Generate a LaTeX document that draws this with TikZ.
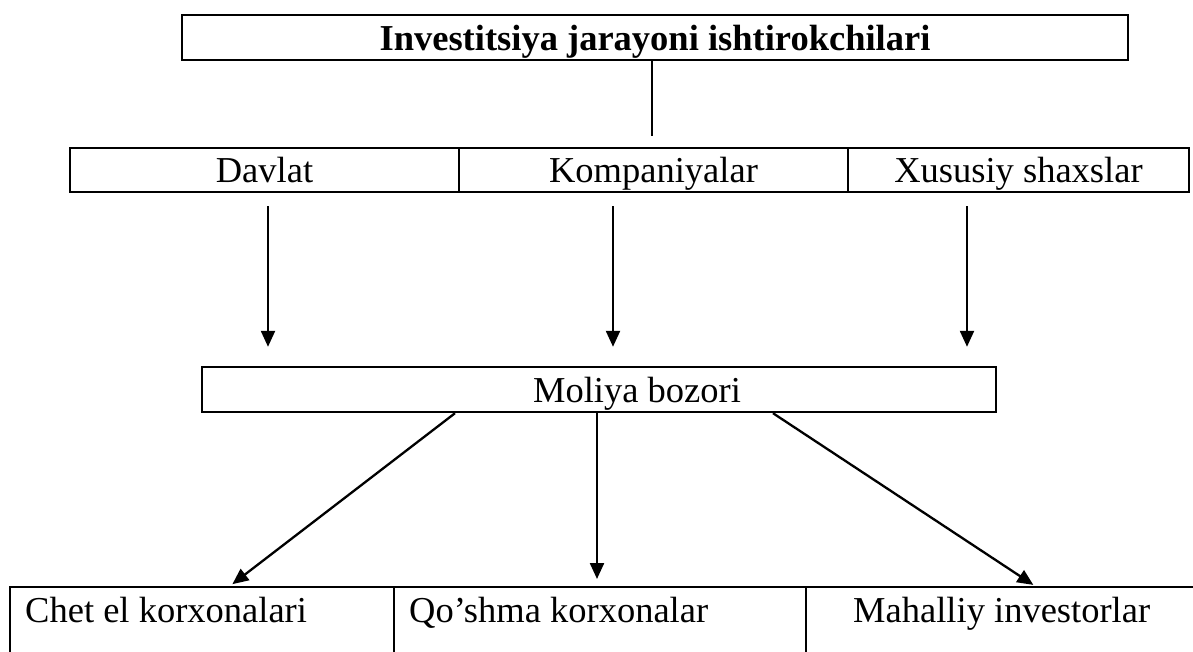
\documentclass[tikz,border=0pt]{standalone}
\usepackage{fontspec}
\setmainfont{Liberation Serif}
\usetikzlibrary{arrows.meta}
\newcommand{\myfs}{\fontsize{36.5}{44}\selectfont}
\begin{document}
\begin{tikzpicture}[x=1pt,y=-1pt,
  box/.style={draw, line width=2.4pt, inner sep=0pt, font=\myfs, text height=26pt, text depth=0pt},
  cellbox/.style={draw, line width=2.2pt, inner sep=0pt, anchor=north west},
  txt/.style={inner sep=0pt, font=\myfs, anchor=base west},
  arr/.style={line width=2.3pt, -{Triangle[length=16pt,width=14pt]}},
  ln/.style={line width=1.8pt}]
\useasboundingbox (0,0) rectangle (1193,652);
\clip (0,0) rectangle (1193,652);
% top
\node[box, minimum width=946pt, minimum height=45pt, font=\myfs\bfseries] (t) at (655,37.5) {Investitsiya jarayoni ishtirokchilari};
% row
\node[box, minimum width=389pt, minimum height=44pt] (d) at (264.5,170) {Davlat};
\node[box, minimum width=389pt, minimum height=44pt] (k) at (653.5,170) {Kompaniyalar};
\node[box, minimum width=341pt, minimum height=44pt] (x) at (1018.5,170) {Xususiy shaxslar};
% market
\node[box, minimum width=794pt, minimum height=45pt] (m) at (599,389.5) {\hspace*{76pt}Moliya bozori};
% bottom row
\node[cellbox, minimum width=384pt, minimum height=120pt] (c1) at (9,586) {};
\node[cellbox, minimum width=412pt, minimum height=120pt] (c2) at (393,586) {};
\node[cellbox, minimum width=450pt, minimum height=120pt] (c3) at (805,586) {};
\node[txt] (t1) at (25,622) {Chet el korxonalari};
\node[txt] (t2) at (409,622) {Qo’shma korxonalar};
\node[txt] (t3) at (853,622) {Mahalliy investorlar};
% helper x positions
\coordinate (xt) at (652,0);
\coordinate (xd) at (268,0);
\coordinate (xk) at (613,0);
\coordinate (xx) at (967,0);
\coordinate (xa) at (455,0);
\coordinate (xb) at (597,0);
\coordinate (xc) at (773,0);
\coordinate (ya) at (230,0);
\coordinate (yc) at (1035,0);
% connectors
\draw[ln, shorten >=11pt] (t.south -| xt) -- (k.north -| xt);
\draw[arr, shorten <=13pt, shorten >=19pt] (d.south -| xd) -- (m.north -| xd);
\draw[arr, shorten <=13pt, shorten >=19pt] (k.south -| xk) -- (m.north -| xk);
\draw[arr, shorten <=13pt, shorten >=19pt] (x.south -| xx) -- (m.north -| xx);
\draw[arr, shorten >=3pt] (m.south -| xa) -- (c1.north -| ya);
\draw[arr, shorten >=7pt] (m.south -| xb) -- (c2.north -| xb);
\draw[arr, shorten >=2pt] (m.south -| xc) -- (c3.north -| yc);
\end{tikzpicture}
\end{document}
